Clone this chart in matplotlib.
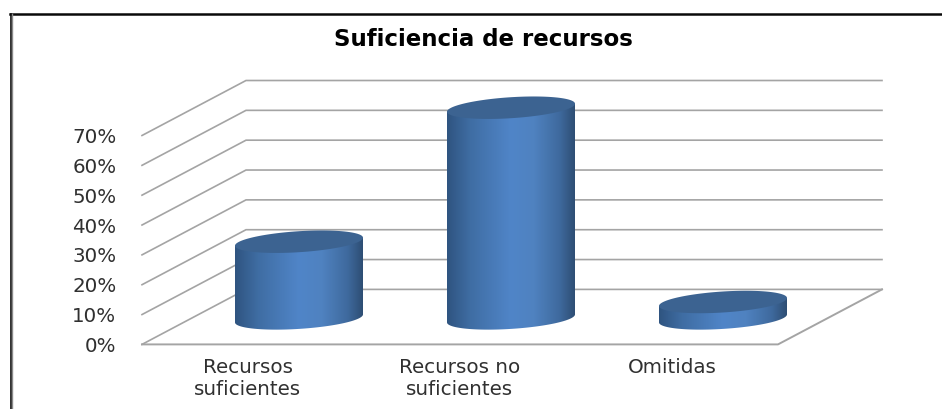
import numpy as np
import matplotlib
matplotlib.use("Agg")
import matplotlib.pyplot as plt
from matplotlib.colors import LinearSegmentedColormap
from matplotlib.lines import Line2D
from matplotlib.path import Path
from matplotlib.patches import PathPatch

# data
categories = ["Recursos\nsuficientes", "Recursos no\nsuficientes", "Omitidas"]
values = [25.7, 70.6, 5.5]
y_ticks = [0, 10, 20, 30, 40, 50, 60, 70]
y_tick_labels = ["0%", "10%", "20%", "30%", "40%", "50%", "60%", "70%"]
title = "Suficiencia de recursos"

W, H = 942, 409
fig = plt.figure(figsize=(W / 100, H / 100), dpi=100, facecolor="white")
L, R, B, T = 142, 778, 344.4, 135.5
ax = fig.add_axes([L / W, 1 - B / H, (R - L) / W, (B - T) / H])
ax.set_xlim(0, 3)
ax.set_ylim(0, 70)
ax.patch.set_visible(False)
for s in ax.spines.values():
    s.set_visible(False)

px_x = 3 / (R - L)
px_y = 70 / (B - T)
DX, DY = 104 * px_x, 55 * px_y  # full depth of the 3-D floor

GRID = "#a4a4a4"
TEXT = "#303030"
for v in y_ticks:
    ax.plot([0, DX, 3 + DX], [v, v + DY, v + DY], color=GRID, lw=1.2,
            clip_on=False, zorder=1, solid_joinstyle="miter")
ax.plot([0, 3, 3 + DX], [0, 0, DY], color=GRID, lw=1.4, clip_on=False, zorder=1)

ax.set_yticks(y_ticks, y_tick_labels)
ax.set_xticks(np.arange(len(categories)) + 0.5, categories)
ax.tick_params(axis="y", length=0, pad=18.5, labelsize=14.3, labelcolor=TEXT)
ax.tick_params(axis="x", length=0, pad=10, labelsize=14.3, labelcolor=TEXT)

cmap = LinearSegmentedColormap.from_list(
    "cyl",
    [(0.0, "#2f5480"), (0.18, "#3f6da3"), (0.5, "#5085c8"), (0.68, "#4f82c0"),
     (0.88, "#3f6a9e"), (1.0, "#2e4e74")],
)
grad = np.linspace(0, 1, 256).reshape(1, -1)
TOP_COLOR = "#3c6391"

half_w = 64 * px_x
tilt = 4 * px_y
minor = 10.5 * px_y
t = np.linspace(0, 2 * np.pi, 181)
base_y = 26 * px_y
off_x = 51 * px_x

for i, v in enumerate(values):
    cx = i + 0.5 + off_x
    # lower half of the bottom ellipse from left to right, then up the right side
    tb = np.linspace(np.pi, 2 * np.pi, 91)
    xb = cx + half_w * np.cos(tb)
    yb = base_y + tilt * np.cos(tb) + minor * np.sin(tb)
    top_r = base_y + v + tilt
    top_l = base_y + v - tilt
    verts = np.column_stack([np.r_[xb, cx + half_w, cx - half_w, xb[0]],
                             np.r_[yb, top_r, top_l, yb[0]]])
    body = PathPatch(Path(verts), facecolor="none", edgecolor="none", zorder=2,
                     transform=ax.transData, clip_on=False)
    ax.add_patch(body)
    im = ax.imshow(grad, cmap=cmap, aspect="auto", zorder=2,
                   extent=[cx - half_w, cx + half_w, base_y - 2 * minor, base_y + v + 2 * minor])
    im.set_clip_box(fig.bbox)
    im.set_clip_path(body)
    ax.fill(cx + half_w * np.cos(t),
            base_y + v + tilt * np.cos(t) + minor * np.sin(t),
            color=TOP_COLOR, lw=0, zorder=3, clip_on=False)

ax.set_xlim(0, 3)
ax.set_ylim(0, 70)

fig.text(483 / W, 1 - 40 / H, title, ha="center", va="center", fontsize=16.5,
         fontweight="bold", family="DejaVu Sans", color="black")

# frame of the picture
fig.add_artist(Line2D([10 / W, 1], [1 - 14 / H, 1 - 14 / H], color="#0a0a0a", lw=1.8))
fig.add_artist(Line2D([10.7 / W, 10.7 / W], [0, 1 - 14 / H], color="#0a0a0a", lw=1.2))
fig.add_artist(Line2D([12 / W, 12 / W], [0, 1 - 14 / H], color="#8a8a8a", lw=1.0))

fig.savefig("out.png", dpi=100, facecolor="white")
